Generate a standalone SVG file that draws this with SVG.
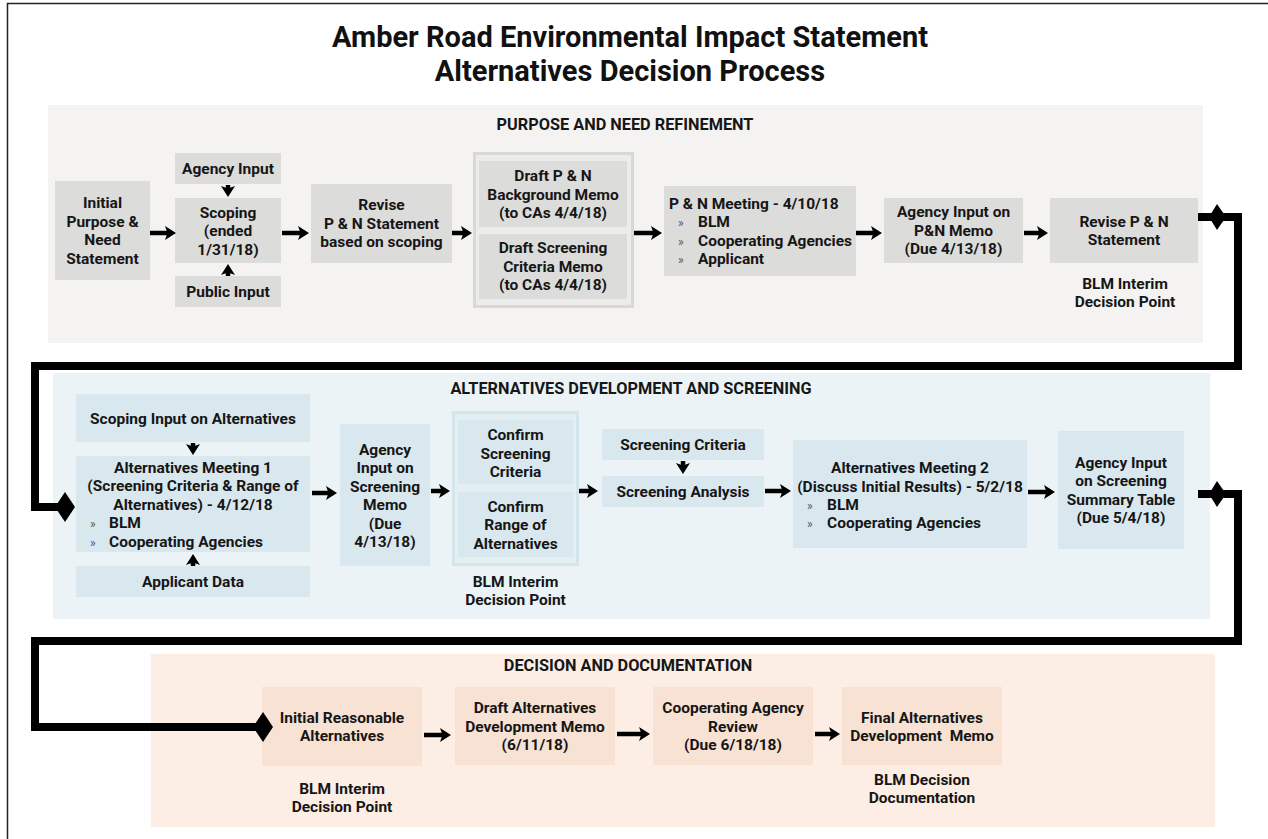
<svg xmlns="http://www.w3.org/2000/svg" width="1268" height="839" viewBox="0 0 1268 839">
  <defs>
    <style>
      text { font-family: Roboto, "Liberation Sans", Arial, sans-serif; font-weight: 700; font-size: 15.5px; fill: #161616; text-anchor: middle; }
      text.l { text-anchor: start; }
      text.pre { white-space: pre; }
      text.blt { font-size: 12px; font-weight: 400; fill: #555; text-anchor: start; }
      text.sec { font-size: 16.3px; }
      text.title { font-size: 29px; fill: #111; }
      .bg1 { fill: #f4f3f2; }
      .bg2 { fill: #ebf3f6; }
      .bg3 { fill: #fdeee5; }
      .n1 { fill: #dcdcdb; }
      .n2 { fill: #d9e8ef; }
      .n3 { fill: #f8e2d3; }
      .f1 { fill: #ececeb; stroke: #d8d8d7; stroke-width: 3; }
      .f2 { fill: #e4eff4; stroke: #d4e5ec; stroke-width: 3; }
      .arrow { stroke: #000; stroke-width: 4.5; fill: none; marker-end: url(#head); }
      .flow { stroke: #000; stroke-width: 8; fill: none; stroke-linejoin: miter; marker-start: url(#bigStart); marker-end: url(#bigEnd); }
    </style>
    <marker id="head" viewBox="0 0 11 14" markerWidth="11" markerHeight="14" refX="7" refY="7" orient="auto" markerUnits="userSpaceOnUse">
      <path d="M0,0 L11,7 L0,14 L2.5,7 Z" fill="#000"/>
    </marker>
    <marker id="bigEnd" viewBox="0 0 20 30" markerWidth="20" markerHeight="30" refX="16" refY="15" orient="auto" markerUnits="userSpaceOnUse">
      <path d="M0,15 L10,0 L20,15 L10,30 Z" fill="#000"/>
    </marker>
    <marker id="bigStart" viewBox="-11 0 28 26" markerWidth="28" markerHeight="26" refX="0" refY="13" orient="auto" markerUnits="userSpaceOnUse" overflow="visible">
      <path d="M11,13 L19,0 L28,13 L19,26 Z" fill="#000"/>
    </marker>
  </defs>

  <rect width="1268" height="839" fill="#fff"/>
  <rect x="7.5" y="3.5" width="1275" height="850" fill="none" stroke="#222" stroke-width="1.5"/>

  <g id="title">
    <text class="title" x="630" y="47">Amber Road Environmental Impact Statement</text>
    <text class="title" x="630" y="81">Alternatives Decision Process</text>
  </g>

  <!-- Stage 1: purpose and need -->
  <g id="stage-purpose-need">
    <rect class="bg1" x="48" y="105" width="1155" height="238"/>
    <text class="sec" x="625" y="130">PURPOSE AND NEED REFINEMENT</text>
  </g>
  <g id="initial-pn">
    <rect class="n1" x="55" y="181" width="95" height="99"/>
    <text x="102.5" y="208">Initial</text>
    <text x="102.5" y="226.5">Purpose &amp;</text>
    <text x="102.5" y="245">Need</text>
    <text x="102.5" y="263.5">Statement</text>
  </g>
  <g id="agency-input">
    <rect class="n1" x="175" y="153" width="106" height="31"/>
    <text x="228" y="174">Agency Input</text>
  </g>
  <g id="scoping">
    <rect class="n1" x="175" y="198" width="106" height="65"/>
    <text x="228" y="217.5">Scoping</text>
    <text x="228" y="236">(ended</text>
    <text x="228" y="254.5">1/31/18)</text>
  </g>
  <g id="public-input">
    <rect class="n1" x="175" y="276" width="106" height="31"/>
    <text x="228" y="297">Public Input</text>
  </g>
  <g id="revise-pn-scoping">
    <rect class="n1" x="311" y="184" width="141" height="79"/>
    <text x="381.5" y="210">Revise</text>
    <text x="381.5" y="228.5">P &amp; N Statement</text>
    <text x="381.5" y="247">based on scoping</text>
  </g>
  <g id="draft-memos">
    <rect class="f1" x="474.5" y="153.5" width="158" height="153"/>
    <rect class="n1" x="479" y="161" width="148" height="66"/>
    <text x="553" y="181">Draft P &amp; N</text>
    <text x="553" y="199.5">Background Memo</text>
    <text x="553" y="218">(to CAs 4/4/18)</text>
    <rect class="n1" x="479" y="234" width="148" height="65"/>
    <text x="553" y="253">Draft Screening</text>
    <text x="553" y="271.5">Criteria Memo</text>
    <text x="553" y="290">(to CAs 4/4/18)</text>
  </g>
  <g id="pn-meeting">
    <rect class="n1" x="664" y="186" width="192" height="90"/>
    <text class="l" x="669" y="208.5">P &amp; N Meeting - 4/10/18</text>
    <text class="blt" x="678" y="227">»</text>
    <text class="l" x="698" y="227">BLM</text>
    <text class="blt" x="678" y="245.5">»</text>
    <text class="l" x="698" y="245.5">Cooperating Agencies</text>
    <text class="blt" x="678" y="264">»</text>
    <text class="l" x="698" y="264">Applicant</text>
  </g>
  <g id="agency-pn-memo">
    <rect class="n1" x="884" y="198" width="139" height="65"/>
    <text x="953.5" y="217">Agency Input on</text>
    <text x="953.5" y="235.5">P&amp;N Memo</text>
    <text x="953.5" y="254">(Due 4/13/18)</text>
  </g>
  <g id="revise-pn-statement">
    <rect class="n1" x="1050" y="198" width="148" height="65"/>
    <text x="1124" y="226.5">Revise P &amp; N</text>
    <text x="1124" y="245">Statement</text>
    <text x="1125" y="289">BLM Interim</text>
    <text x="1125" y="307">Decision Point</text>
  </g>

  <!-- Stage 2: alternatives development and screening -->
  <g id="stage-alternatives">
    <rect class="bg2" x="53" y="373" width="1157" height="246"/>
    <text class="sec" x="631" y="394">ALTERNATIVES DEVELOPMENT AND SCREENING</text>
  </g>
  <g id="scoping-input-alts">
    <rect class="n2" x="76" y="394" width="234" height="48"/>
    <text x="193" y="423.5">Scoping Input on Alternatives</text>
  </g>
  <g id="alts-meeting-1">
    <rect class="n2" x="76" y="456" width="234" height="96"/>
    <text x="193" y="472.5">Alternatives Meeting 1</text>
    <text x="193" y="491">(Screening Criteria &amp; Range of</text>
    <text x="193" y="509.5">Alternatives) - 4/12/18</text>
    <text class="blt" x="90" y="528">»</text>
    <text class="l" x="109" y="528">BLM</text>
    <text class="blt" x="90" y="546.5">»</text>
    <text class="l" x="109" y="546.5">Cooperating Agencies</text>
  </g>
  <g id="applicant-data">
    <rect class="n2" x="76" y="566" width="234" height="31"/>
    <text x="193" y="587">Applicant Data</text>
  </g>
  <g id="agency-screening-memo">
    <rect class="n2" x="340" y="424" width="90" height="142"/>
    <text x="385" y="454.5">Agency</text>
    <text x="385" y="473">Input on</text>
    <text x="385" y="491.5">Screening</text>
    <text x="385" y="510">Memo</text>
    <text x="385" y="528.5">(Due</text>
    <text x="385" y="547">4/13/18)</text>
  </g>
  <g id="confirm">
    <rect class="f2" x="453.5" y="412.5" width="124" height="152"/>
    <rect class="n2" x="458" y="420" width="115" height="64"/>
    <text x="515.5" y="440">Confirm</text>
    <text x="515.5" y="458.5">Screening</text>
    <text x="515.5" y="477">Criteria</text>
    <rect class="n2" x="458" y="492" width="115" height="65"/>
    <text x="515.5" y="511.5">Confirm</text>
    <text x="515.5" y="530">Range of</text>
    <text x="515.5" y="548.5">Alternatives</text>
    <text x="515.5" y="587">BLM Interim</text>
    <text x="515.5" y="605">Decision Point</text>
  </g>
  <g id="screening-criteria">
    <rect class="n2" x="602" y="429" width="162" height="31"/>
    <text x="683" y="450">Screening Criteria</text>
  </g>
  <g id="screening-analysis">
    <rect class="n2" x="602" y="476" width="162" height="31"/>
    <text x="683" y="497">Screening Analysis</text>
  </g>
  <g id="alts-meeting-2">
    <rect class="n2" x="793" y="440" width="234" height="108"/>
    <text x="910" y="473">Alternatives Meeting 2</text>
    <text x="910" y="491.5">(Discuss Initial Results) - 5/2/18</text>
    <text class="blt" x="807" y="509.5">»</text>
    <text class="l" x="827" y="509.5">BLM</text>
    <text class="blt" x="807" y="528">»</text>
    <text class="l" x="827" y="528">Cooperating Agencies</text>
  </g>
  <g id="agency-summary-table">
    <rect class="n2" x="1058" y="431" width="126" height="118"/>
    <text x="1121" y="467.5">Agency Input</text>
    <text x="1121" y="486">on Screening</text>
    <text x="1121" y="504.5">Summary Table</text>
    <text x="1121" y="523">(Due 5/4/18)</text>
  </g>

  <!-- Stage 3: decision and documentation -->
  <g id="stage-decision">
    <rect class="bg3" x="151" y="654" width="1064" height="173"/>
    <text class="sec" x="628" y="671">DECISION AND DOCUMENTATION</text>
  </g>
  <g id="initial-alts">
    <rect class="n3" x="262" y="687" width="160" height="79"/>
    <text x="342" y="722.5">Initial Reasonable</text>
    <text x="342" y="741">Alternatives</text>
    <text x="342" y="794">BLM Interim</text>
    <text x="342" y="812">Decision Point</text>
  </g>
  <g id="draft-alts-memo">
    <rect class="n3" x="455" y="687" width="160" height="78"/>
    <text x="535" y="713">Draft Alternatives</text>
    <text x="535" y="731.5">Development Memo</text>
    <text x="535" y="750">(6/11/18)</text>
  </g>
  <g id="coop-review">
    <rect class="n3" x="653" y="687" width="160" height="78"/>
    <text x="733" y="713">Cooperating Agency</text>
    <text x="733" y="731.5">Review</text>
    <text x="733" y="750">(Due 6/18/18)</text>
  </g>
  <g id="final-memo">
    <rect class="n3" x="842" y="687" width="160" height="78"/>
    <text x="922" y="722.5">Final Alternatives</text>
    <text class="pre" x="922" y="741">Development  Memo</text>
    <text x="922" y="785">BLM Decision</text>
    <text x="922" y="803">Documentation</text>
  </g>

  <g id="connectors">
    <!-- stage 1 -->
    <line class="arrow" x1="150" y1="233" x2="172" y2="233"/>
    <line class="arrow" x1="228" y1="185" x2="228" y2="193"/>
    <line class="arrow" x1="228" y1="276" x2="228" y2="268"/>
    <line class="arrow" x1="282" y1="233" x2="305" y2="233"/>
    <line class="arrow" x1="452" y1="233" x2="468" y2="233"/>
    <line class="arrow" x1="634" y1="233" x2="658" y2="233"/>
    <line class="arrow" x1="856" y1="233" x2="878" y2="233"/>
    <line class="arrow" x1="1024" y1="233" x2="1044" y2="233"/>
    <!-- stage 2 -->
    <line class="arrow" x1="193" y1="443" x2="193" y2="451"/>
    <line class="arrow" x1="193" y1="566" x2="193" y2="558"/>
    <line class="arrow" x1="312" y1="493" x2="333" y2="493"/>
    <line class="arrow" x1="431" y1="491" x2="446" y2="491"/>
    <line class="arrow" x1="579" y1="491" x2="594" y2="491"/>
    <line class="arrow" x1="683" y1="461" x2="683" y2="470"/>
    <line class="arrow" x1="765" y1="491" x2="787" y2="491"/>
    <line class="arrow" x1="1028" y1="492" x2="1051" y2="492"/>
    <!-- stage 3 -->
    <line class="arrow" x1="424" y1="735" x2="447" y2="735"/>
    <line class="arrow" x1="617" y1="734" x2="646" y2="734"/>
    <line class="arrow" x1="815" y1="734" x2="836" y2="734"/>
    <!-- links between stages -->
    <path class="flow" d="M1198,217 H1238 V366 H35 V507 H71"/>
    <path class="flow" d="M1198,494 H1238 V641 H35 V727 H269"/>
  </g>
</svg>
